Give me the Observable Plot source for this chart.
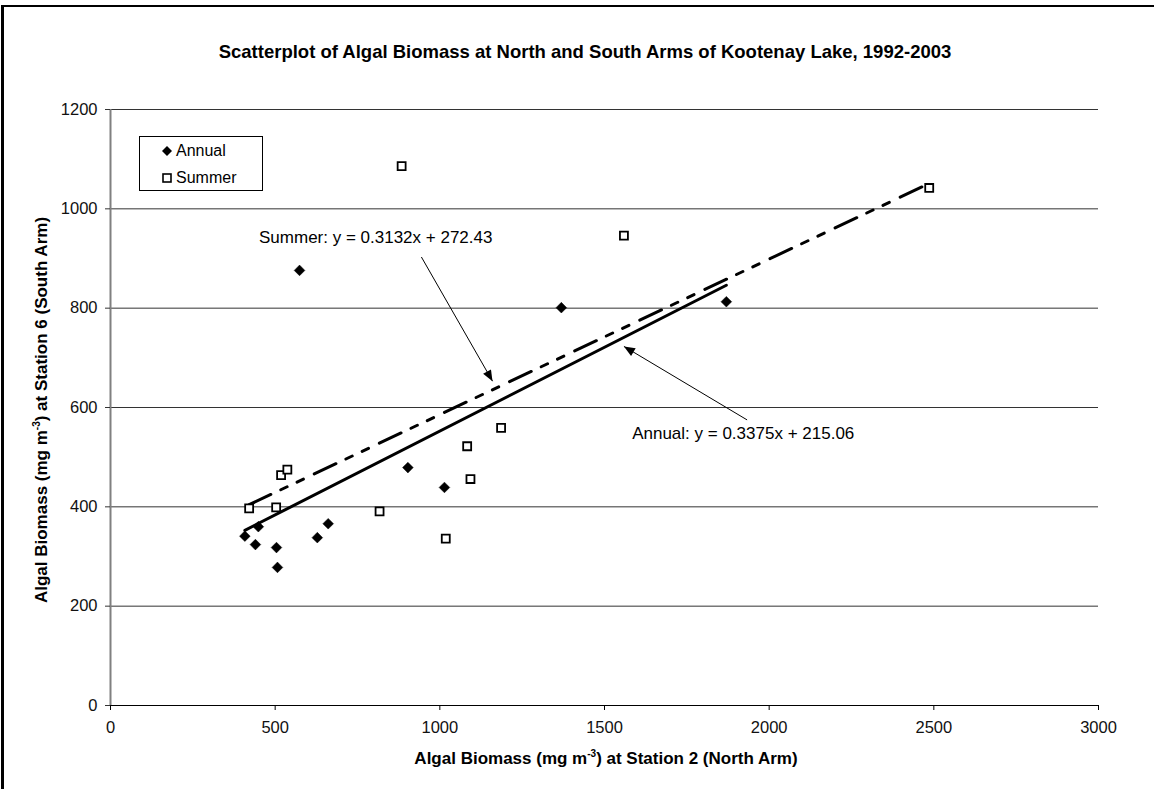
<!DOCTYPE html>
<html>
<head>
<meta charset="utf-8">
<script src="https://cdn.jsdelivr.net/npm/d3@7"></script>
<script src="https://cdn.jsdelivr.net/npm/@observablehq/plot@0.6"></script>
<style>
  body { margin: 0; background: #fff; font-family: "Liberation Sans", Arial, sans-serif; }
  #wrap { position: relative; width: 1154px; height: 789px; overflow: hidden; background: #fff; }
  #frame { position: absolute; left: 1px; top: 5px; width: 1300px; height: 900px;
           border-left: 3px solid #000; border-top: 2px solid #000; }
  #chart { position: absolute; left: 0; top: 0; }
  .title { position: absolute; left: 0; width: 1170px; top: 41px; text-align: center;
           font-weight: bold; font-size: 18.5px; white-space: nowrap; }
  .xlabel { position: absolute; left: 0; width: 1212px; top: 749px; text-align: center;
            font-weight: bold; font-size: 17px; white-space: nowrap; }
  .ylabel { position: absolute; left: 42px; top: 410px; transform: translate(-50%, -50%) rotate(-90deg);
            font-weight: bold; font-size: 17px; white-space: nowrap; }
  sup { font-size: 10px; vertical-align: 7px; line-height: 0; }
  #legend { position: absolute; left: 139px; top: 136px; width: 122px; height: 53px;
            border: 1px solid #000; background: #fff; font-size: 16px; }
  #legend .item { position: absolute; left: 22px; height: 20px; display: flex; align-items: center; }
  #legend svg { margin-right: 4px; }
</style>
</head>
<body>
<div id="wrap">
  <div id="frame"></div>
  <div id="chart"></div>
  <div class="title">Scatterplot of Algal Biomass at North and South Arms of Kootenay Lake, 1992-2003</div>
  <div class="xlabel">Algal Biomass (mg m<sup>-3</sup>) at Station 2 (North Arm)</div>
  <div class="ylabel">Algal Biomass (mg m<sup>-3</sup>) at Station 6 (South Arm)</div>
  <div id="legend"></div>
</div>
<script>
// ---- Data ----
const seriesNames = ["Annual", "Summer"];

const annualX = [408, 440, 449, 504, 507, 628, 661, 574, 903, 1014, 1369, 1870];
const annualY = [341, 324, 360, 318, 278, 338, 366, 876, 479, 439, 801, 813];

const summerX = [421, 503, 518, 537, 817, 884, 1018, 1083, 1093, 1186, 1559, 2486];
const summerY = [397, 399, 464, 475, 391, 1086, 336, 522, 456, 559, 946, 1042];

// Trendline equations shown on the chart
const trendSlope = [0.3375, 0.3132];
const trendIntercept = [215.06, 272.43];

// Annotation labels and arrows (data units)
const labelText = ["Summer: y = 0.3132x + 272.43", "Annual: y = 0.3375x + 215.06"];
const labelX = [451, 1584];
const labelY = [943, 548];
const arrowX1 = [944, 1933];
const arrowY1 = [903, 575];
const arrowX2 = [1160, 1559];
const arrowY2 = [653, 723];

const xTicks = [0, 500, 1000, 1500, 2000, 2500, 3000];
const yTicks = [0, 200, 400, 600, 800, 1000, 1200];

// ---- Build tables ----
const annual = annualX.map((x, i) => ({x, y: annualY[i]}));
const summer = summerX.map((x, i) => ({x, y: summerY[i]}));
function trend(xs, k) {
  const x0 = d3.min(xs), x1 = d3.max(xs);
  return [x0, x1].map(x => ({x, y: trendSlope[k] * x + trendIntercept[k]}));
}
const trendAnnual = trend(annualX, 0);
const trendSummer = trend(summerX, 1);
const labels = labelText.map((t, i) => ({t, x: labelX[i], y: labelY[i]}));
const arrows = arrowX1.map((x1, i) => ({x1, y1: arrowY1[i], x2: arrowX2[i], y2: arrowY2[i]}));

const filledArrow = (color) => {
  const m = d3.create("svg:marker")
    .attr("viewBox", "-11 -4.5 12 9")
    .attr("markerWidth", 12).attr("markerHeight", 9)
    .attr("markerUnits", "userSpaceOnUse")
    .attr("orient", "auto")
    .attr("overflow", "visible");
  m.append("path").attr("d", "M-11,-4.5L0,0L-11,4.5Z").attr("fill", "#000").attr("stroke", "none");
  return m.node();
};

const fmt = d3.format("d");
const chart = Plot.plot({
  width: 1154,
  height: 789,
  marginLeft: 110,
  marginRight: 56,
  marginTop: 109,
  marginBottom: 84,
  style: {fontFamily: "'Liberation Sans', Arial, sans-serif", fontSize: "16px", color: "#000", background: "transparent", overflow: "visible"},
  x: {domain: [0, 3000]},
  y: {domain: [0, 1200]},
  marks: [
    Plot.gridY(yTicks.filter(d => d > 0), {stroke: "#333", strokeOpacity: 1, strokeWidth: 1}),
    Plot.ruleX([0], {stroke: "#808080", strokeWidth: 2}),
    Plot.ruleY([0], {stroke: "#000", strokeWidth: 1}),
    Plot.axisX({ticks: xTicks, tickFormat: fmt, tickSize: 5, tickPadding: 11, label: null, stroke: "#000", fill: "#111", fontSize: 16.5}),
    Plot.axisY({ticks: yTicks, tickFormat: fmt, tickSize: 5, tickPadding: 8, label: null, stroke: "#333", fill: "#111", fontSize: 16.5}),
    Plot.line(trendAnnual, {x: "x", y: "y", stroke: "#000", strokeWidth: 3}),
    Plot.line(trendSummer, {x: "x", y: "y", stroke: "#000", strokeWidth: 3, strokeDasharray: "24,11,7,11,7,12"}),
    Plot.link(arrows, {x1: "x1", y1: "y1", x2: "x2", y2: "y2", stroke: "#000", strokeWidth: 1, markerEnd: filledArrow}),
    Plot.dot(annual, {x: "x", y: "y", symbol: "diamond2", r: 4.8, fill: "#000", stroke: "#000", strokeWidth: 0.5}),
    Plot.dot(summer, {x: "x", y: "y", symbol: "square", r: 4.5, fill: "#fff", stroke: "#000", strokeWidth: 1.8}),
    Plot.text(labels, {x: "x", y: "y", text: "t", textAnchor: "start", fontSize: 17, fill: "#000"})
  ]
});
document.getElementById("chart").appendChild(chart);

// Legend (HTML)
const legend = d3.select("#legend");
const symbols = [
  s => s.append("path").attr("d", "M5,0L10,5L5,10L0,5Z").attr("fill", "#000"),
  s => s.append("rect").attr("x", 1).attr("y", 1).attr("width", 8).attr("height", 8).attr("fill", "#fff").attr("stroke", "#000").attr("stroke-width", 1.6)
];
seriesNames.forEach((name, i) => {
  const it = legend.append("div").attr("class", "item").style("top", (4 + i * 27) + "px");
  const s = it.append("svg").attr("width", 10).attr("height", 10);
  symbols[i](s);
  it.append("span").text(name);
});
</script>
</body>
</html>
